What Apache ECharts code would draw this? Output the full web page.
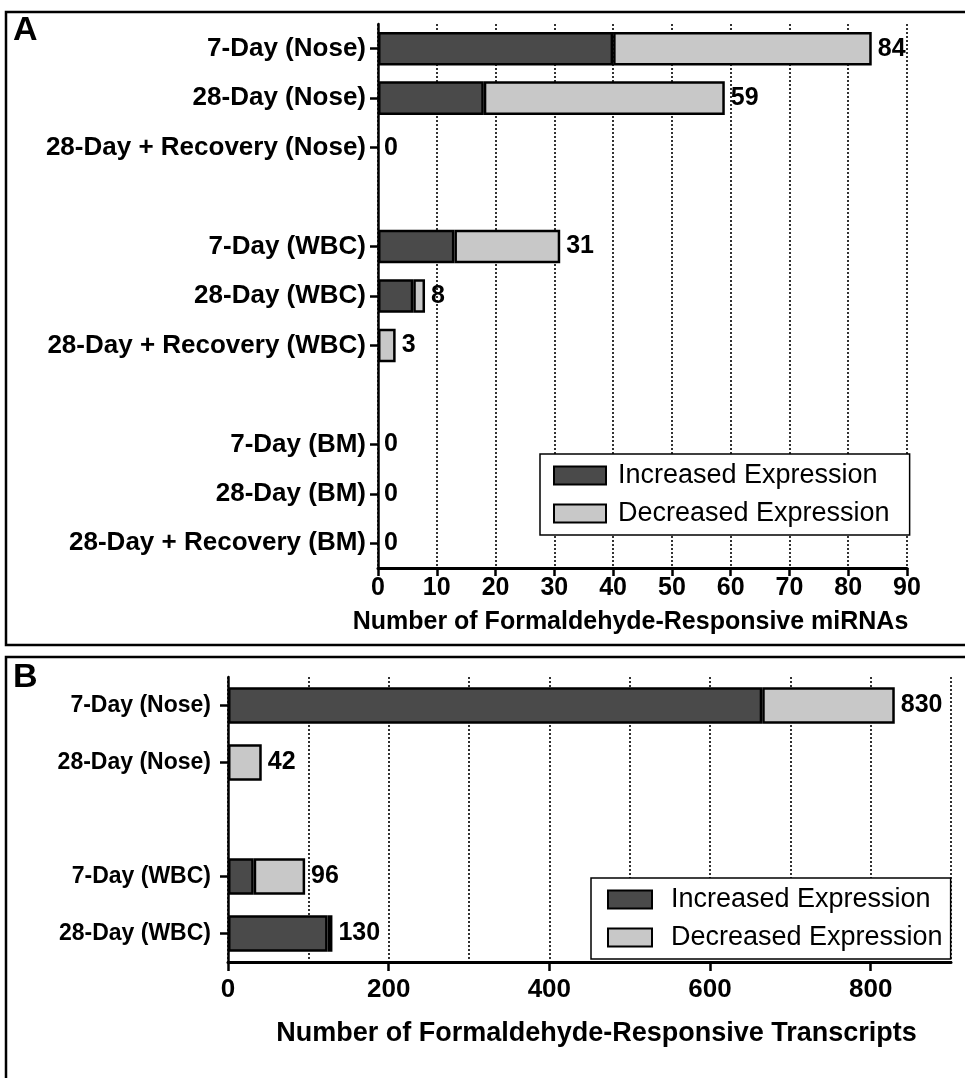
<!DOCTYPE html>
<html>
<head>
<meta charset="utf-8">
<style>
  html, body { margin: 0; padding: 0; background: #ffffff; }
  #chart { width: 965px; height: 1078px; }
</style>
<script src="https://cdn.jsdelivr.net/npm/echarts@6/dist/echarts.min.js"></script>
</head>
<body>
<div id="chart"></div>
<script>
// ---------- Panel A data (miRNAs) ----------
const categoriesA = ['7-Day (Nose)', '28-Day (Nose)', '28-Day + Recovery (Nose)', '',
  '7-Day (WBC)', '28-Day (WBC)', '28-Day + Recovery (WBC)', ' ',
  '7-Day (BM)', '28-Day (BM)', '28-Day + Recovery (BM)'];
const increasedA = [40, 18, 0, null, 13, 6, 0, null, 0, 0, 0];
const decreasedA = [44, 41, 0, null, 18, 2, 3, null, 0, 0, 0];
const ticksA = [0, 10, 20, 30, 40, 50, 60, 70, 80, 90];

// ---------- Panel B data (transcripts) ----------
const categoriesB = ['7-Day (Nose)', '28-Day (Nose)', '', '7-Day (WBC)', '28-Day (WBC)'];
const increasedB = [665, 0, null, 32, 124];
const decreasedB = [165, 42, null, 64, 6];
const ticksB = [0, 200, 400, 600, 800];

const legendNames = ['Increased Expression', 'Decreased Expression'];
const FONT = "'Liberation Sans', Arial, Helvetica, sans-serif";
const DARK = '#4a4a4a';
const LIGHT = '#c8c8c8';

function totals(inc, dec) {
  return inc.map((v, i) => (v === null ? null : v + dec[i]));
}
function nz(arr) { return arr.map(v => (v === null || v === 0) ? '-' : v); }

function buildSeries(inc, dec, idx, gap, labelSize) {
  const base = {
    type: 'bar', stack: 'tot' + idx, xAxisIndex: idx, yAxisIndex: idx,
    barCategoryGap: gap, barGap: '-100%',
    emphasis: { disabled: true }, silent: true
  };
  return [
    Object.assign({}, base, { name: legendNames[0], data: nz(inc),
      itemStyle: { color: DARK, borderColor: '#000', borderWidth: 2.5 } }),
    Object.assign({}, base, { name: legendNames[1], data: nz(dec),
      itemStyle: { color: LIGHT, borderColor: '#000', borderWidth: 2.5 } }),
    {
      type: 'bar', name: 'Total' + idx, xAxisIndex: idx, yAxisIndex: idx,
      barCategoryGap: gap, barGap: '-100%', silent: true,
      data: totals(inc, dec).map(v => v === null ? '-' : v),
      itemStyle: { color: 'rgba(0,0,0,0)', borderWidth: 0 },
      label: { show: true, position: 'right', distance: 6, formatter: '{c}',
        color: '#000', fontFamily: FONT, fontWeight: 'bold', fontSize: labelSize },
      z: 5
    }
  ];
}

const chart = echarts.init(document.getElementById('chart'), null, { renderer: 'canvas' });

function boldText(size) {
  return { color: '#000', fontFamily: FONT, fontWeight: 'bold', fontSize: size };
}
const dotted = { show: true, lineStyle: { color: '#000', width: 1.6, type: [2, 2] } };

const option = {
  backgroundColor: '#ffffff',
  animation: false,
  textStyle: { fontFamily: FONT },
  grid: [
    { left: 378, right: 58, top: 24, height: 544, containLabel: false },
    { left: 228, right: 14, top: 677, height: 285, containLabel: false }
  ],
  xAxis: [
    {
      type: 'value', gridIndex: 0, min: 0, max: 90, interval: 10,
      axisLine: { show: true, lineStyle: { color: '#000', width: 3 } },
      axisTick: { show: true, length: 8, lineStyle: { color: '#000', width: 2.5 } },
      axisLabel: Object.assign({ margin: 8, customValues: ticksA }, boldText(25)),
      splitLine: dotted,
      name: 'Number of Formaldehyde-Responsive miRNAs', nameLocation: 'middle', nameGap: 42,
      nameTextStyle: Object.assign({ padding: [0, 24, 0, 0] }, boldText(25))
    },
    {
      type: 'value', gridIndex: 1, min: 0, max: 900, interval: 100,
      axisLine: { show: true, lineStyle: { color: '#000', width: 3 } },
      axisTick: { show: true, length: 9, lineStyle: { color: '#000', width: 2.5 }, customValues: ticksB },
      axisLabel: Object.assign({ margin: 15, customValues: ticksB }, boldText(26)),
      splitLine: { show: false },
      name: 'Number of Formaldehyde-Responsive Transcripts', nameLocation: 'middle', nameGap: 58,
      nameTextStyle: Object.assign({ padding: [0, 0, 0, 14] }, boldText(27)),
      z: 3
    },
    {
      type: 'value', gridIndex: 1, min: 0, max: 900, interval: 100, position: 'bottom',
      axisLine: { show: false }, axisTick: { show: false }, axisLabel: { show: false },
      splitLine: dotted, z: 1
    }
  ],
  yAxis: [
    {
      type: 'category', gridIndex: 0, data: categoriesA, inverse: true,
      axisLine: { show: true, lineStyle: { color: '#000', width: 2.5 } },
      axisTick: { show: true, alignWithLabel: true, length: 8,
        interval: (i, v) => String(v).trim() !== '',
        lineStyle: { color: '#000', width: 2.5 } },
      axisLabel: Object.assign({ margin: 12, interval: 0 }, boldText(26)),
      splitLine: { show: false }
    },
    {
      type: 'category', gridIndex: 1, data: categoriesB, inverse: true,
      axisLine: { show: true, lineStyle: { color: '#000', width: 2.5 } },
      axisTick: { show: true, alignWithLabel: true, length: 8,
        interval: (i, v) => String(v).trim() !== '',
        lineStyle: { color: '#000', width: 2.5 } },
      axisLabel: Object.assign({ margin: 17, interval: 0 }, boldText(23)),
      splitLine: { show: false }
    }
  ],
  legend: [
    {
      data: legendNames, orient: 'vertical', left: 540, top: 454,
      backgroundColor: '#fff', borderColor: '#000', borderWidth: 1.5,
      padding: [8, 20, 8, 13], itemWidth: 52, itemHeight: 18, itemGap: 11,
      icon: 'rect', selectedMode: false,
      textStyle: { color: '#000', fontFamily: FONT, fontSize: 27, padding: [0, 0, 0, 7] }
    },
    {
      data: legendNames, orient: 'vertical', left: 591, top: 878,
      backgroundColor: '#fff', borderColor: '#000', borderWidth: 1.5,
      padding: [8, 8, 8, 16], itemWidth: 44, itemHeight: 18, itemGap: 11,
      icon: 'rect', selectedMode: false,
      textStyle: { color: '#000', fontFamily: FONT, fontSize: 27, padding: [0, 0, 0, 14] }
    }
  ],
  graphic: [
    { type: 'rect', shape: { x: 6, y: 12, width: 980, height: 633 },
      style: { fill: 'none', stroke: '#000', lineWidth: 2.5 }, silent: true },
    { type: 'rect', shape: { x: 6, y: 657, width: 980, height: 460 },
      style: { fill: 'none', stroke: '#000', lineWidth: 2.5 }, silent: true },
    { type: 'text', left: 13, top: 14,
      style: { text: 'A', fill: '#000', font: "bold 34px 'Liberation Sans', Arial, sans-serif" } },
    { type: 'text', left: 13, top: 661,
      style: { text: 'B', fill: '#000', font: "bold 34px 'Liberation Sans', Arial, sans-serif" } }
  ],
  series: [].concat(buildSeries(increasedA, decreasedA, 0, '32%', 25),
                    buildSeries(increasedB, decreasedB, 1, '36%', 25))
};

chart.setOption(option);
</script>
</body>
</html>
